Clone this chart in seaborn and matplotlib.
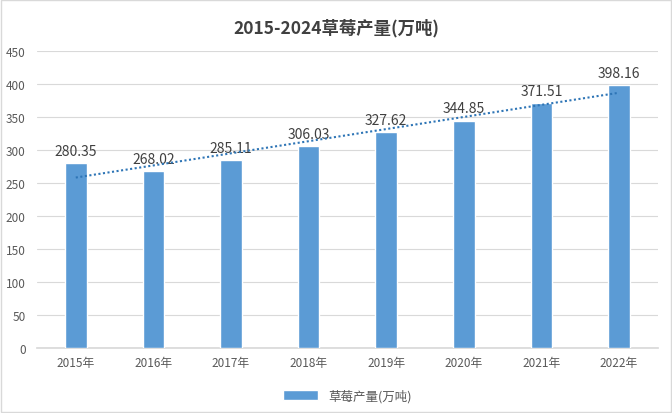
import numpy as np
import pandas as pd
import matplotlib
matplotlib.use("Agg")
import matplotlib.pyplot as plt
import seaborn as sns

# Datos
years = ["2015年", "2016年", "2017年", "2018年", "2019年", "2020年", "2021年", "2022年"]
output = [280.35, 268.02, 285.11, 306.03, 327.62, 344.85, 371.51, 398.16]
series_name = "草莓产量(万吨)"
title = "2015-2024草莓产量(万吨)"
y_ticks = [0, 50, 100, 150, 200, 250, 300, 350, 400, 450]

sns.set_theme(style="white")
plt.rcParams["font.family"] = ["Noto Sans CJK SC", "DejaVu Sans"]

df = pd.DataFrame({"year": years, "value": output})

fig = plt.figure(figsize=(6.72, 4.14), dpi=100)
ax = fig.add_axes([0.055, 0.157, 0.924, 0.717])

sns.barplot(data=df, x="year", y="value", color="#5B9BD5", width=0.28,
            saturation=1, label=series_name, ax=ax, zorder=3)

# Etiquetas de datos
for i, v in enumerate(output):
    ax.text(i, v + 8, f"{v:.2f}", ha="center", va="bottom",
            fontsize=10, color="#404040", zorder=4)

# Línea de tendencia lineal
x = np.arange(len(output))
coef = np.polyfit(x, output, 1)
ax.plot(x, np.polyval(coef, x), linestyle=(0, (1, 1.2)), color="#2E75B6",
        linewidth=1.5, zorder=5)

ax.set_ylim(0, 450)
ax.set_yticks(y_ticks)
ax.set_xlim(-0.5, len(years) - 0.5)
ax.yaxis.grid(True, color="#D9D9D9", linewidth=0.8, zorder=0)
ax.set_xlabel("")
ax.set_ylabel("")
for s in ["top", "right", "left"]:
    ax.spines[s].set_visible(False)
ax.spines["bottom"].set_color("#D9D9D9")
ax.tick_params(axis="both", labelsize=8.5, colors="#595959", length=0)
ax.tick_params(axis="x", pad=6)
ax.tick_params(axis="y", pad=8)

fig.suptitle(title, y=0.955, fontsize=12.5, fontweight="bold", color="#404040")

leg = ax.legend(loc="upper center", bbox_to_anchor=(0.5, -0.1), frameon=False,
                fontsize=9, handlelength=2.8, handleheight=0.8)
for t in leg.get_texts():
    t.set_color("#595959")

# Borde de la figura
fig.patches.append(plt.Rectangle((0.002, 0.002), 0.996, 0.996, transform=fig.transFigure,
                                 fill=False, edgecolor="#D9D9D9", linewidth=1))

fig.savefig("out.png", dpi=100)
